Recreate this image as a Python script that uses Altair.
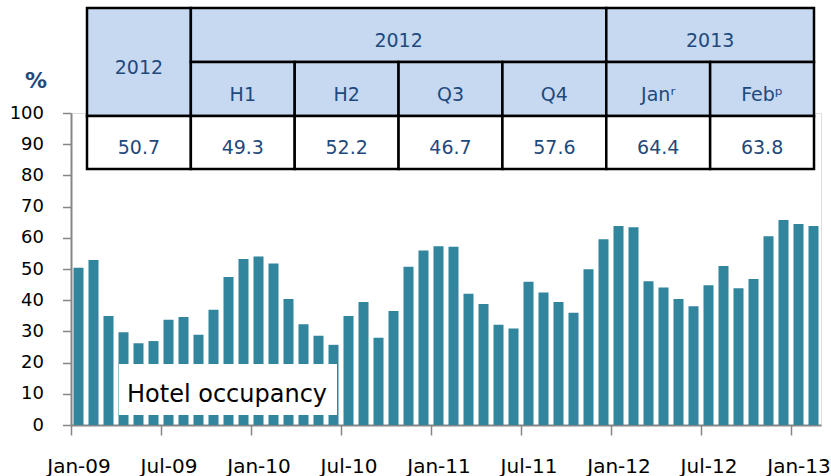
import altair as alt
import pandas as pd

# ---------------- data ----------------
MONTH_NAMES = ["Jan", "Feb", "Mar", "Apr", "May", "Jun",
               "Jul", "Aug", "Sep", "Oct", "Nov", "Dec"]
months = [f"{MONTH_NAMES[i % 12]}-{9 + i // 12:02d}" for i in range(50)]

occupancy = [50.4, 52.9, 34.9, 29.7, 26.2, 26.9, 33.7, 34.6, 28.9, 36.9, 47.4, 53.2,
             54.0, 51.8, 40.4, 32.3, 28.6, 25.7, 34.9, 39.4, 28.0, 36.5, 50.7, 55.9,
             57.3, 57.1, 42.1, 38.8, 32.1, 30.9, 45.9, 42.5, 39.4, 36.0, 49.9, 59.5,
             63.8, 63.4, 46.1, 44.1, 40.4, 38.1, 44.8, 51.0, 43.8, 46.8, 60.5, 65.7,
             64.4, 63.8]

tick_labels = months[::6]
y_ticks = list(range(0, 101, 10))

corner_header = "2012"
top_headers = [("2012", 1, 5), ("2013", 5, 7)]   # text, first col, end col
sub_headers = ["H1", "H2", "Q3", "Q4", "Jan\u02b3", "Feb\u1d56"]
table_values = ["50.7", "49.3", "52.2", "46.7", "57.6", "64.4", "63.8"]

series_label = "Hotel occupancy"
unit_label = "%"

# ---------------- styles / layout ----------------
FONT = "DejaVu Sans"
BAR_COLOR = "#31859C"
AXIS_COLOR = "#868686"
HEADER_FILL = "#C6D9F1"
TABLE_TEXT = "#1F497D"
W, H = 750, 312

TABLE_X0 = 16
COL_W = (743 - 16) / 7
ROW_Y = [-105, -51, 3, 56]

cells = []
def add_cell(text, c0, c1, r0, r1, fill):
    cells.append({
        "x": TABLE_X0 + COL_W * c0, "x2": TABLE_X0 + COL_W * c1,
        "y": ROW_Y[r0], "y2": ROW_Y[r1],
        "xc": TABLE_X0 + COL_W * (c0 + c1) / 2,
        "yb": (ROW_Y[r0] + ROW_Y[r1]) / 2 + 11.5,
        "text": text, "fill": fill,
    })

add_cell(corner_header, 0, 1, 0, 2, HEADER_FILL)
for t, c0, c1 in top_headers:
    add_cell(t, c0, c1, 0, 1, HEADER_FILL)
for i, t in enumerate(sub_headers):
    add_cell(t, i + 1, i + 2, 1, 2, HEADER_FILL)
for i, t in enumerate(table_values):
    add_cell(t, i, i + 1, 2, 3, "white")
cells_df = pd.DataFrame(cells)

bars_df = pd.DataFrame({"month": months, "value": occupancy})
one = pd.DataFrame({"a": [0]})

# ---------------- chart ----------------
bars = alt.Chart(bars_df).mark_bar(color=BAR_COLOR).encode(
    x=alt.X("month:N", sort=months,
            scale=alt.Scale(paddingInner=1/3, paddingOuter=1/6),
            axis=alt.Axis(values=tick_labels, title=None, labelAngle=0,
                          tickOffset=-7.5, labelOffset=7.5,
                          tickSize=10, tickWidth=1.5, tickColor=AXIS_COLOR,
                          domainColor=AXIS_COLOR, domainWidth=2,
                          labelFontSize=20, labelColor="black",
                          labelPadding=21, labelFont=FONT, grid=False)),
    y=alt.Y("value:Q", scale=alt.Scale(domain=[0, 100], nice=False),
            axis=alt.Axis(values=y_ticks, title=None, grid=False,
                          tickSize=8.5, tickWidth=1.5, tickColor=AXIS_COLOR,
                          domainColor=AXIS_COLOR, domainWidth=2,
                          labelFontSize=18, labelColor="black",
                          labelPadding=19, labelFont=FONT)),
)

box = alt.Chart(one).mark_rect(color="white").encode(
    x=alt.value(48), x2=alt.value(266), y=alt.value(251), y2=alt.value(302))

box_text = alt.Chart(one).mark_text(
    align="left", baseline="alphabetic", fontSize=24, font=FONT, color="black"
).encode(x=alt.value(56), y=alt.value(289), text=alt.value(series_label))

px_x = alt.Scale(domain=[0, W], range=[0, W], nice=False, zero=False)
px_y = alt.Scale(domain=[0, H], range=[0, H], nice=False, zero=False)

table_rects = alt.Chart(cells_df).mark_rect(stroke="black", strokeWidth=2.5).encode(
    x=alt.X("x:Q", scale=px_x, axis=None),
    x2="x2:Q",
    y=alt.Y("y:Q", scale=px_y, axis=None),
    y2="y2:Q",
    fill=alt.Fill("fill:N", scale=None),
)

table_text = alt.Chart(cells_df).mark_text(
    align="center", baseline="alphabetic", fontSize=19, font=FONT, color=TABLE_TEXT
).encode(
    x=alt.X("xc:Q", scale=px_x, axis=None),
    y=alt.Y("yb:Q", scale=px_y, axis=None),
    text="text:N",
)

unit = alt.Chart(one).mark_text(
    align="center", baseline="middle", fontSize=22, fontWeight="bold",
    font=FONT, color=TABLE_TEXT
).encode(x=alt.value(-35), y=alt.value(-32), text=alt.value(unit_label))

chart = alt.layer(bars, box, box_text, table_rects, table_text, unit).resolve_scale(
    x="independent", y="independent"
).properties(
    width=W, height=H,
    autosize=alt.AutoSizeParams(type="none"),
    padding={"left": 71, "top": 113, "right": 10, "bottom": 51},
    background="white",
).configure_view(stroke=None).configure(font=FONT)

chart.save("out.html", embed_options={"renderer": "svg", "actions": False})
